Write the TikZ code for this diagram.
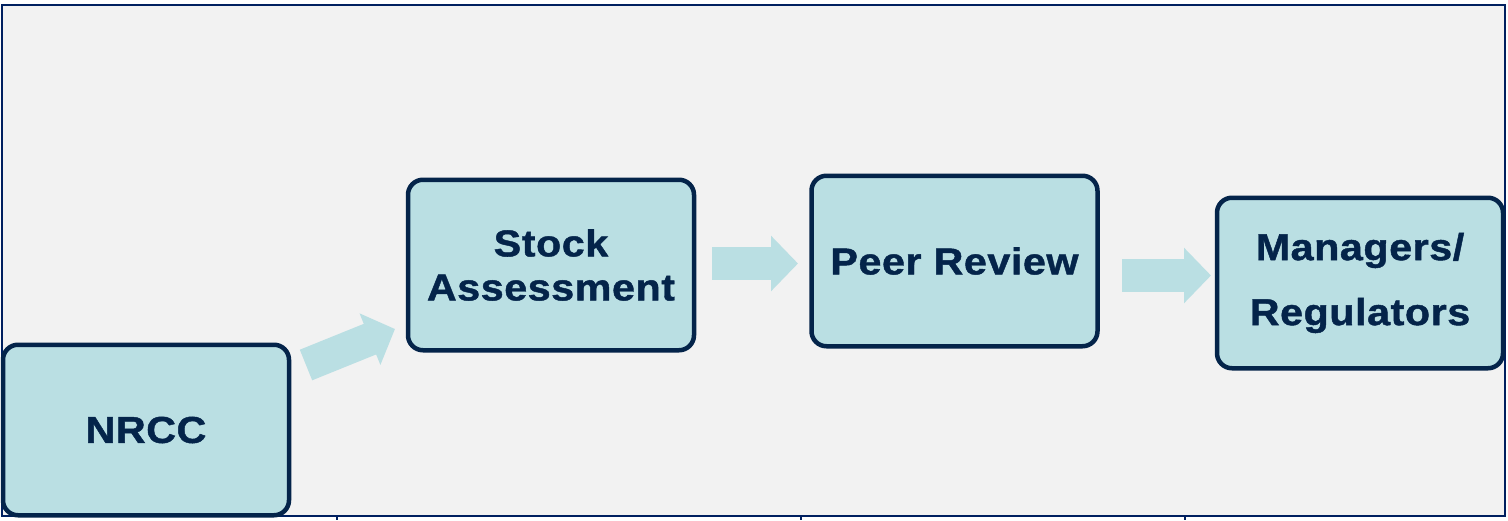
\documentclass[tikz,border=0pt]{standalone}
\usepackage{fontspec}
\newfontfamily\boxfont{Liberation Sans}[FakeStretch=1.1,LetterSpace=1.5,FakeBold=1.2]
\usetikzlibrary{arrows.meta}

\definecolor{navy}{RGB}{4,36,74}
\definecolor{framenavy}{RGB}{0,32,96}
\definecolor{paleblue}{RGB}{186,223,227}
\definecolor{bggray}{RGB}{242,242,242}

\tikzset{
	box/.style={draw=navy,fill=paleblue,line width=4.5pt,rounded corners=15pt,
		minimum width=286pt,minimum height=170.5pt,align=center,text=navy,
		font=\boxfont\bfseries\fontsize{37.5}{44}\selectfont},
	flow/.style={draw=paleblue,line width=33pt,
		-{Triangle[length=27pt,width=54pt]}}
}

\begin{document}
\begin{tikzpicture}[x=1pt,y=-1pt]
	\useasboundingbox (0,0) rectangle (1508,520);
	\draw[framenavy,fill=bggray,line width=2.2pt] (2,5) rectangle (1505,516);
	\draw[framenavy,line width=2pt] (337,516)--(337,520);
	\draw[framenavy,line width=2pt] (801,516)--(801,520);
	\draw[framenavy,line width=2pt] (1185,516)--(1185,520);
	
	\node[box] (nrcc) at (146,430) {NRCC};
	\node[box] (stock) at (551,265) {Stock\\Assessment};
	\node[box] (peer) at (954.5,261) {Peer Review};
	\node[box] (mgr) at (1360,283) {Managers/\\[21pt]Regulators};
	
	\coordinate (s1) at (306,365);
	\coordinate (e1) at (395,329);
	\coordinate (s2) at (712,263.5);
	\coordinate (e2) at (798,263.5);
	\coordinate (s3) at (1122,275.5);
	\coordinate (e3) at (1211,275.5);
	\draw[flow] (s1)--(e1);
	\draw[flow] (s2)--(e2);
	\draw[flow] (s3)--(e3);
\end{tikzpicture}
\end{document}
